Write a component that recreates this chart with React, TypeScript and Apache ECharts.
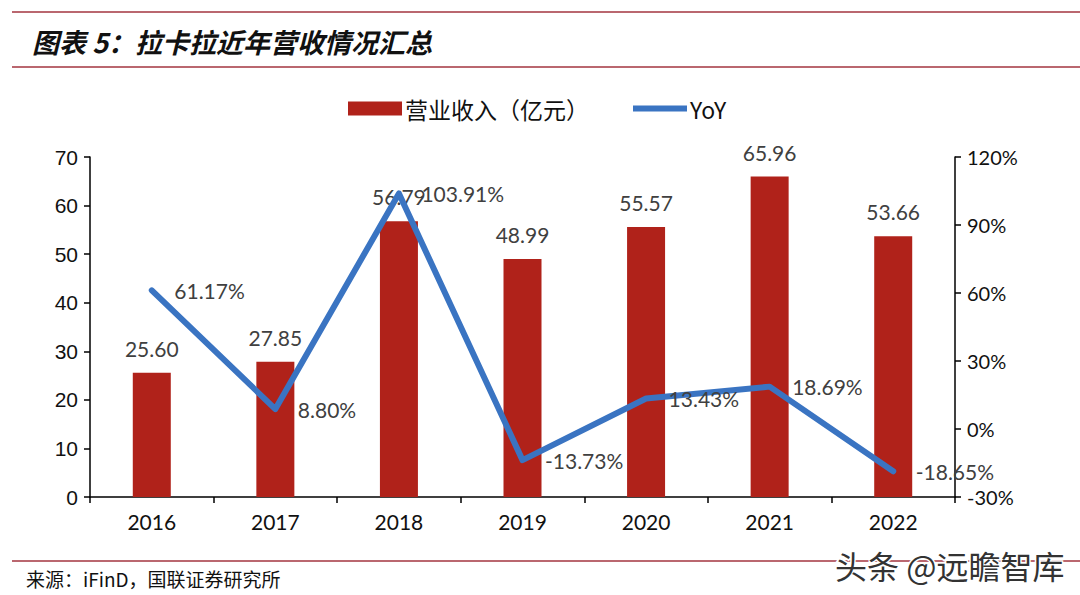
import React, { useEffect, useRef } from "react";
import * as echarts from "echarts";

const years = ["2016", "2017", "2018", "2019", "2020", "2021", "2022"];
const revenue = [25.6, 27.85, 56.79, 48.99, 55.57, 65.96, 53.66];
const yoy = [61.17, 8.8, 103.91, -13.73, 13.43, 18.69, -18.65];
const revenueName = "营业收入（亿元）";
const yoyName = "YoY";
const titleText = "图表 5：拉卡拉近年营收情况汇总";
const sourceText = "来源：iFinD，国联证券研究所";
const watermarkText = "头条 @远瞻智库";

export default function App() {
  const ref = useRef<HTMLDivElement>(null);
  useEffect(() => {
    if (!ref.current) return;
    const chart = echarts.init(ref.current, null, { renderer: "svg" });
    const lineRed = "#a3343f";
    const blue = "#3a74c2";
    chart.setOption({
      animation: false,
      backgroundColor: "#ffffff",
      textStyle: { fontFamily: "Lato, 'Noto Sans CJK SC', sans-serif" },
      graphic: [
        { type: "line", shape: { x1: 12, y1: 12, x2: 1080, y2: 12 }, style: { stroke: lineRed, lineWidth: 1.5 } },
        { type: "line", shape: { x1: 12, y1: 67, x2: 1080, y2: 67 }, style: { stroke: lineRed, lineWidth: 1.5 } },
        { type: "line", shape: { x1: 12, y1: 561, x2: 1080, y2: 561 }, style: { stroke: lineRed, lineWidth: 1.5 } },
        {
          type: "text", x: 32, y: 41,
          style: { text: titleText, font: "italic bold 27px 'Noto Sans CJK SC'", fill: "#111", textVerticalAlign: "middle" },
        },
        {
          type: "text", x: 26, y: 578,
          style: { text: sourceText, font: "19px 'Noto Sans CJK SC'", fill: "#111", textVerticalAlign: "middle" },
        },
        {
          type: "text", x: 835, y: 565, z: 100,
          style: { text: watermarkText, font: "32px 'Noto Sans CJK SC'", fill: "#333", stroke: "#fff", lineWidth: 3, textVerticalAlign: "middle" },
        },
      ],
      legend: {
        top: 92,
        left: 343,
        itemGap: 44,
        itemWidth: 54,
        itemHeight: 14,
        textStyle: { fontSize: 23, color: "#111", fontFamily: "'Noto Sans CJK SC', sans-serif", padding: [0, 0, 0, -2] },
        data: [
          { name: revenueName, icon: "rect" },
          { name: yoyName, icon: "path://M0,4 L56,4 L56,10 L0,10 Z", itemStyle: { color: blue, opacity: 1 } },
        ],
      },
      grid: { left: 90, right: 125, top: 157, bottom: 98 },
      xAxis: {
        type: "category",
        data: years,
        axisLine: { lineStyle: { color: "#000", width: 1.5 } },
        axisTick: { show: true, alignWithLabel: false, length: 6, lineStyle: { color: "#000", width: 1.5 } },
        axisLabel: { fontSize: 21, color: "#111", margin: 14, fontFamily: "Lato" },
      },
      yAxis: [
        {
          type: "value", min: 0, max: 70, interval: 10,
          axisLine: { show: true, lineStyle: { color: "#000", width: 1.5 } },
          axisTick: { show: true, length: 6, lineStyle: { color: "#000", width: 1.5 } },
          splitLine: { show: false },
          axisLabel: { fontSize: 21, color: "#111", margin: 12, fontFamily: "'Liberation Sans'" },
        },
        {
          type: "value", min: -30, max: 120, interval: 30, position: "right",
          axisLine: { show: true, lineStyle: { color: "#000", width: 1.5 } },
          axisTick: { show: true, length: 6, lineStyle: { color: "#000", width: 1.5 } },
          splitLine: { show: false },
          axisLabel: { fontSize: 20, color: "#111", margin: 12, fontFamily: "Lato", formatter: "{value}%" },
        },
      ],
      series: [
        {
          name: revenueName,
          type: "bar",
          data: revenue,
          barWidth: 38,
          itemStyle: { color: "#b0221a" },
          label: {
            show: true, position: "top", distance: 14, fontSize: 21, color: "#404040", fontFamily: "Lato",
            formatter: (p: any) => p.value.toFixed(2),
          },
        },
        {
          name: yoyName,
          type: "line",
          yAxisIndex: 1,
          data: yoy,
          symbol: "circle",
          symbolSize: 1,
          itemStyle: { color: blue, opacity: 0 },
          lineStyle: { color: blue, width: 6, cap: "round", join: "round" },
          emphasis: { disabled: true },
          label: {
            show: true, position: "right", distance: 22, fontSize: 21, color: "#404040", fontFamily: "Lato", opacity: 1,
            formatter: (p: any) => p.value.toFixed(2) + "%",
          },
        },
      ],
    });
    return () => chart.dispose();
  }, []);
  return <div ref={ref} style={{ width: 1080, height: 595, position: "absolute", left: 0, top: 0 }} />;
}
